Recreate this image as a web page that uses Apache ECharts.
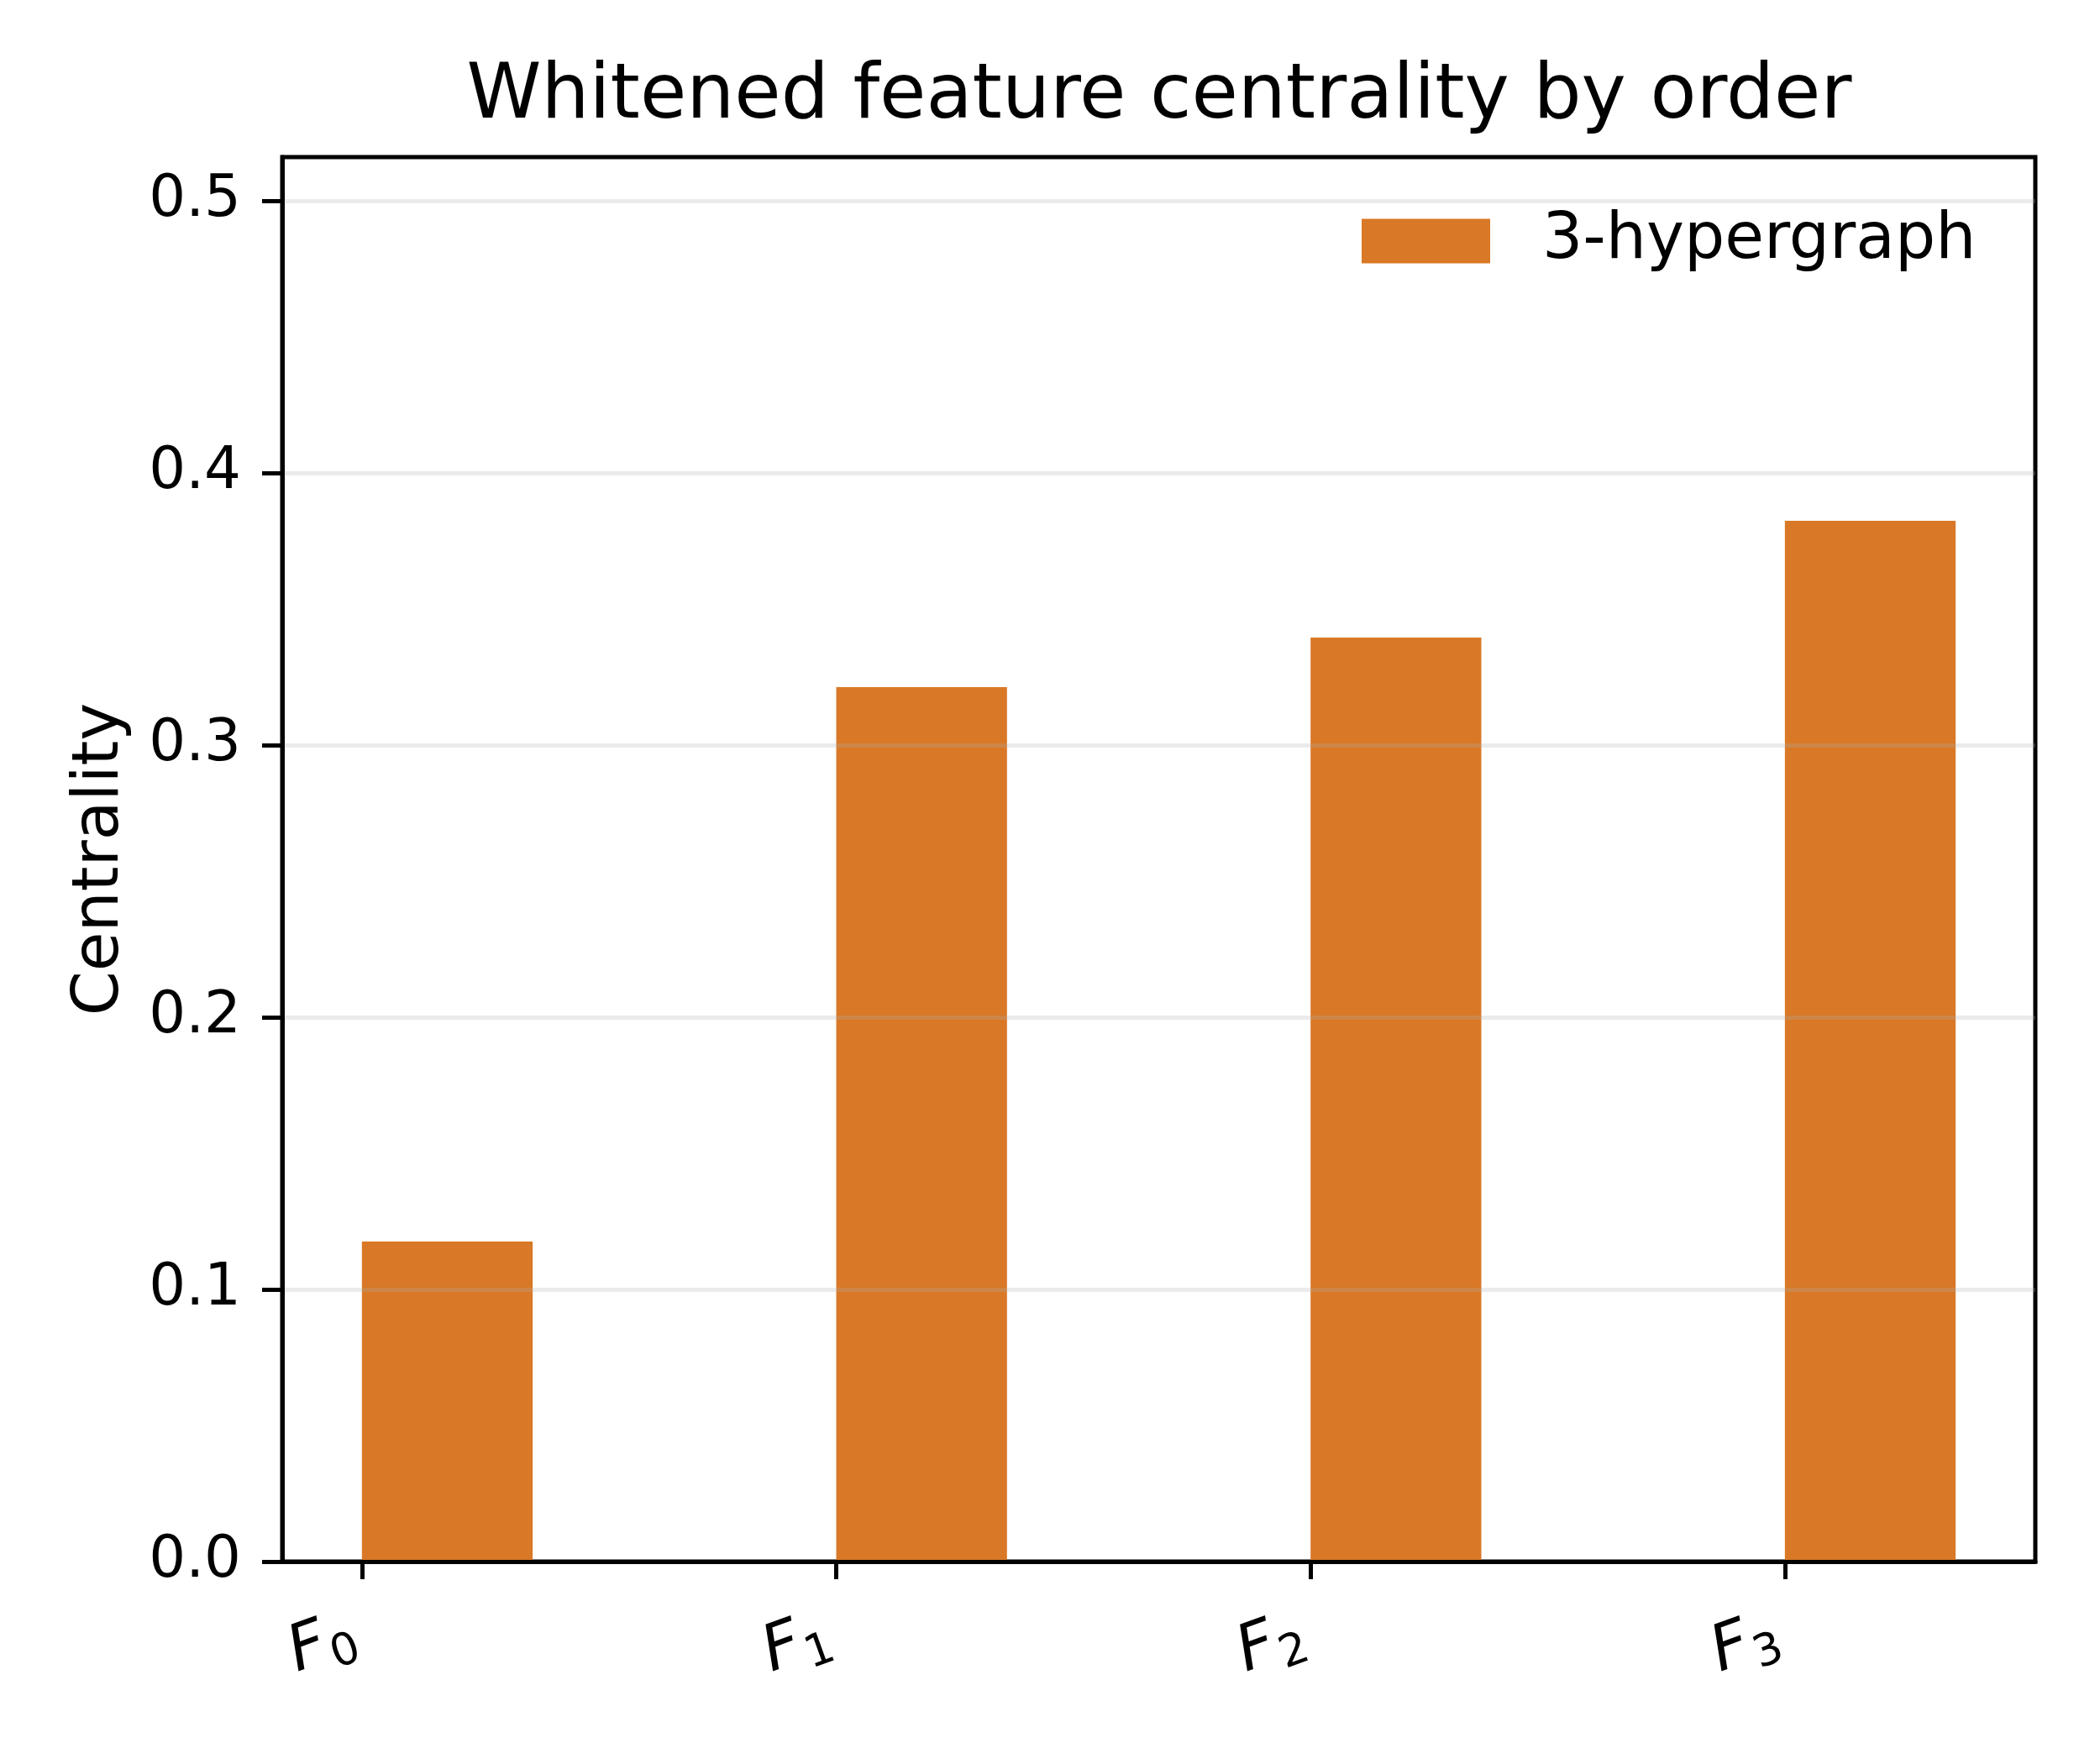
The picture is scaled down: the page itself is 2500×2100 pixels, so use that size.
<!DOCTYPE html>
<html>
<head>
<meta charset="utf-8">
<title>Whitened feature centrality by order</title>
<script src="https://cdn.jsdelivr.net/npm/echarts@6/dist/echarts.min.js"></script>
<style>
  html, body { margin: 0; padding: 0; background: #fff; }
  #chart { width: 2500px; height: 2100px; }
</style>
</head>
<body>
<div id="chart"></div>
<script>
// data
var categories = ['F0', 'F1', 'F2', 'F3'];
var seriesName = '3-hypergraph';
var centrality = [0.1176, 0.3213, 0.3395, 0.3824];
var yTicks = [0, 0.1, 0.2, 0.3, 0.4, 0.5];
var xTicks = [0, 1, 2, 3];

var FONT = 'DejaVu Sans';
var BAR_COLOR = '#d97826';
var BAR_W = 0.36; // bars start at the tick and span this much of a category

var chart = echarts.init(document.getElementById('chart'), null, { renderer: 'canvas', devicePixelRatio: 1 });

// bar drawn with the axis scales, left edge on the category tick
function renderBar(params, api) {
    var x = api.value(0);
    var p0 = api.coord([x, 0]);
    var p1 = api.coord([x + BAR_W, api.value(1)]);
    return {
        type: 'rect',
        shape: { x: p0[0], y: p1[1], width: p1[0] - p0[0], height: p0[1] - p1[1] },
        style: { fill: BAR_COLOR }
    };
}

var option = {
    backgroundColor: '#fff',
    animation: false,
    title: {
        text: 'Whitened feature centrality by order',
        left: 1380,
        top: 72,
        textAlign: 'center',
        padding: 0,
        textStyle: { fontFamily: FONT, fontSize: 90, fontWeight: 'normal', color: '#000' }
    },
    legend: {
        data: [seriesName],
        left: 1621,
        top: 249,
        padding: 0,
        icon: 'rect',
        itemWidth: 153,
        itemHeight: 53,
        textStyle: { fontFamily: FONT, fontSize: 76, color: '#000', lineHeight: 53, padding: [0, 0, 0, 57] }
    },
    grid: {
        left: 336,
        right: 77,
        top: 187,
        bottom: 241,
        show: true,
        borderColor: '#000',
        borderWidth: 5,
        backgroundColor: 'transparent'
    },
    xAxis: {
        type: 'value',
        min: -0.168,
        max: 3.528,
        z: 5,
        axisLine: { show: true, onZero: false, lineStyle: { color: '#000', width: 5 } },
        axisTick: { show: true, customValues: xTicks, length: 21, lineStyle: { color: '#000', width: 5 } },
        splitLine: { show: false },
        axisLabel: {
            customValues: xTicks,
            rotate: 20,
            margin: 82,
            formatter: function (v) {
                var name = categories[Math.round(v)];
                return '{f|' + name.charAt(0) + '}{s|' + name.slice(1) + '}';
            },
            rich: {
                f: { fontFamily: FONT, fontSize: 76, fontStyle: 'italic', color: '#000', lineHeight: 76 },
                s: { fontFamily: FONT, fontSize: 53, color: '#000', lineHeight: 53, verticalAlign: 'top', padding: [30, 10, 0, 2] }
            }
        }
    },
    yAxis: {
        type: 'value',
        min: 0,
        max: 0.516,
        interval: 0.1,
        z: 5,
        name: 'Centrality',
        nameLocation: 'middle',
        nameGap: 216,
        nameTextStyle: { fontFamily: FONT, fontSize: 76, color: '#000', verticalAlign: 'middle' },
        axisLine: { show: true, onZero: false, lineStyle: { color: '#000', width: 5 } },
        axisTick: { show: true, customValues: yTicks, length: 24, lineStyle: { color: '#000', width: 5 } },
        axisLabel: {
            customValues: yTicks,
            margin: 49,
            fontFamily: FONT,
            fontSize: 69,
            color: '#000',
            formatter: function (v) { return v.toFixed(1); }
        },
        splitLine: { show: true, lineStyle: { color: 'rgba(176,176,176,0.25)', width: 5 } }
    },
    series: [{
        name: seriesName,
        type: 'custom',
        renderItem: renderBar,
        itemStyle: { color: BAR_COLOR },
        encode: { x: 0, y: 1 },
        data: centrality.map(function (v, i) { return [i, v]; }),
        z: 2
    }]
};

chart.setOption(option);
</script>
</body>
</html>
